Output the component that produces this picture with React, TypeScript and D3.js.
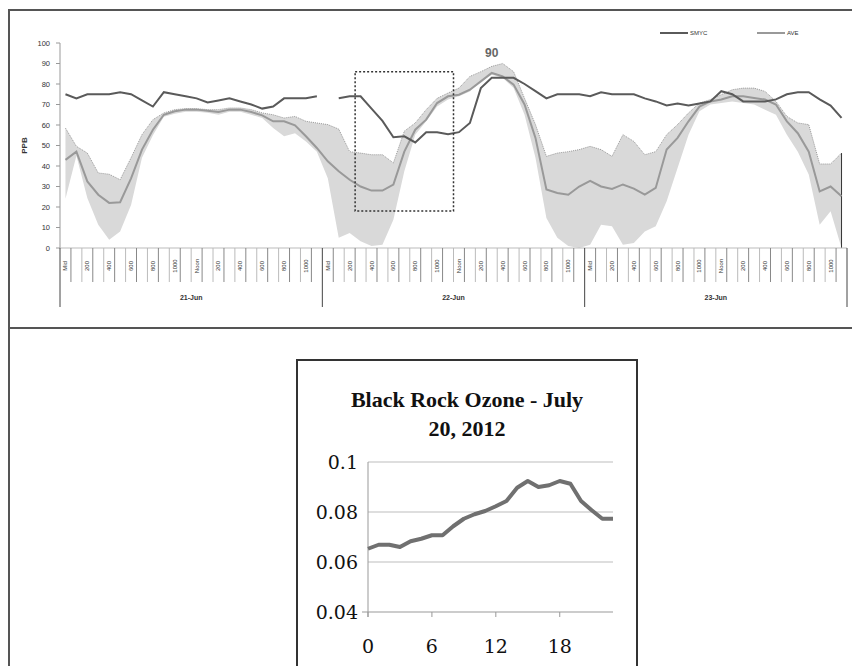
import React from "react";
import * as d3 from "d3";

// hourly readings, 21-Jun 00:00 .. 23-Jun 23:00 (72 points)
const smyc: (number | null)[] = [
  75, 73, 75, 75, 75, 76, 75, 72, 69, 76, 75, 74, 73, 71, 72, 73, 71.5, 70, 68, 69, 73, 73, 73, 74,
  null, 73, 74, 74, 68, 62, 54, 54.5, 51.5, 56.5, 56.5, 55.5, 56.5, 61, 78, 83, 83, 83, 80, 76.5,
  73, 75, 75, 75, 74, 76, 75, 75, 75, 73, 71.5, 69.5, 70.5, 69.5, 70.5, 71.5, 76.5, 75, 71.5, 71.5,
  71.5, 72.5, 75, 76, 76, 72.5, 69.5, 63.5,
];
const ave = [
  43, 47, 32.5, 26, 22, 22.3, 34, 48, 57.7, 65, 66.7, 67.5, 67.5, 67, 66.3, 67.5, 67.5, 66.3, 64.7,
  61.8, 61.8, 59.8, 54.5, 48.8, 42.3, 37.4, 33.3, 30, 28, 28, 30.9, 47, 57.7, 62.6, 70.7, 74, 74.8,
  77.2, 81.3, 85.4, 83.7, 79.7, 70, 53.7, 28.5, 26.8, 26, 30, 32.8, 30, 28.8, 31, 29, 26, 29.3, 48,
  53.7, 61.8, 69, 71.5, 72.4, 74, 74, 73.2, 72.4, 70, 61.8, 56, 47, 27.6, 30, 25.2,
];
const bandHigh = [
  58.5, 49.6, 46.3, 36.6, 36, 33.3, 44, 55.3, 62.6, 65.9, 67.5, 68, 68, 67.5, 67.5, 68.3, 68.3,
  67.5, 65.9, 65, 63.4, 64.2, 61.8, 61, 60.2, 58, 47, 46.3, 45.5, 45.5, 41.5, 57, 61, 67.5, 73, 75.6,
  78, 83.7, 86, 88.6, 90, 86, 73, 60.2, 44.7, 46.3, 47, 48, 49.6, 48, 44.7, 55.3, 52, 45.5, 47, 55.3,
  60.2, 65.9, 70.7, 72.4, 74.8, 77.2, 78, 78, 76.4, 71.5, 64.2, 61, 60.2, 41, 41, 46.3,
];
const bandLow = [
  24, 45, 24.4, 11.4, 4, 8, 21, 44, 55, 64, 65.5, 66.5, 66.5, 66, 65, 66.5, 66.5, 65, 63.4, 58.5,
  54.5, 56, 52, 47, 34, 5, 7.3, 3.3, 1, 1.6, 13.8, 37.4, 55.3, 61.8, 69, 72.4, 74, 76.4, 81.3, 84.5,
  83, 78, 65, 44, 14.6, 5, 1, 0, 1.6, 11.4, 10.6, 1.6, 2.4, 8, 10.6, 22.8, 39, 55.3, 66.7, 70, 70.7,
  71.5, 70.7, 70, 67.5, 65, 55.3, 47, 35.8, 11.4, 17.9, 0,
];
const hourLabels = ["Mid", "200", "400", "600", "800", "1000", "Noon", "200", "400", "600", "800", "1000"];
const days = ["21-Jun", "22-Jun", "23-Jun"];
const ppbTicks = [0, 10, 20, 30, 40, 50, 60, 70, 80, 90, 100];

// Black Rock, 20 July 2012, hourly
const ozoneHours = d3.range(24);
const ozone = [
  0.0653, 0.0669, 0.0669, 0.066, 0.0683, 0.0693, 0.0707, 0.0707, 0.0743, 0.0773, 0.0791, 0.0804,
  0.0823, 0.0844, 0.0897, 0.0924, 0.09, 0.0907, 0.0924, 0.0913, 0.0844, 0.0807, 0.0773, 0.0773,
];
const ozoneTicks = [0.04, 0.06, 0.08, 0.1];
const hourTicks = [0, 6, 12, 18];

const App = () => {
  // top panel
  const x = d3.scaleLinear().domain([0, 72]).range([60, 847]);
  const y = d3.scaleLinear().domain([0, 100]).range([248, 43]);
  const cx = (i: number) => x(i + 0.5);

  const smycLine = d3
    .line<number | null>()
    .defined((d) => d != null)
    .x((_, i) => cx(i))
    .y((d) => y(d as number));
  const aveLine = d3
    .line<number>()
    .x((_, i) => cx(i))
    .y((d) => y(d));
  const band = d3
    .area<number>()
    .x((_, i) => cx(i))
    .y0((_, i) => y(bandLow[i]))
    .y1((d) => y(d));
  const bandTop = d3
    .line<number>()
    .x((_, i) => cx(i))
    .y((d) => y(d));

  // bottom panel
  const xb = d3.scaleLinear().domain([0, 23]).range([368, 613]);
  const yb = d3.scaleLinear().domain([0.04, 0.1]).range([612, 462]);
  const ozLine = d3
    .line<number>()
    .x((_, i) => xb(ozoneHours[i]))
    .y((d) => yb(d));

  const sans = "'Liberation Sans', Arial, sans-serif";
  const last = bandHigh.length - 1;

  return (
    <div style={{ position: "fixed", left: 0, top: 0 }}>
      <svg width={852} height={666} style={{ display: "block", background: "#fff" }}>
        {/* frame */}
        <line x1={9} x2={852} y1={10} y2={10} stroke="#555" strokeWidth={2} />
        <line x1={9} x2={9} y1={9} y2={666} stroke="#555" strokeWidth={2} />
        <line x1={9} x2={852} y1={328} y2={328} stroke="#555" strokeWidth={2} />

        {/* band */}
        <path d={band(bandHigh) || ""} fill="#d9d9d9" />
        <path d={bandTop(bandHigh) || ""} fill="none" stroke="#777" strokeWidth={0.7} strokeDasharray="1,1" />
        <line x1={cx(last)} x2={cx(last)} y1={y(bandHigh[last])} y2={y(0)} stroke="#333" strokeWidth={1} />

        {/* y axis */}
        <line x1={60} x2={60} y1={y(100)} y2={y(0)} stroke="#999" />
        {ppbTicks.map((t) => (
          <g key={t}>
            <line x1={56} x2={60} y1={y(t)} y2={y(t)} stroke="#999" />
            <text x={50} y={y(t)} dy="0.35em" textAnchor="end" fontSize={7.5} fontFamily={sans} fill="#333">
              {t}
            </text>
          </g>
        ))}
        <text
          transform={`translate(27,${y(50)}) rotate(-90)`}
          textAnchor="middle"
          fontSize={8}
          fontWeight="bold"
          fontFamily={sans}
          fill="#333"
        >
          PPB
        </text>

        {/* category axis */}
        <line x1={60} x2={847} y1={y(0)} y2={y(0)} stroke="#bbb" />
        {d3.range(73).map((i) =>
          i % 24 === 0 ? (
            <line key={i} x1={x(i)} x2={x(i)} y1={y(0)} y2={307} stroke="#444" />
          ) : (
            <line key={i} x1={x(i)} x2={x(i)} y1={y(0)} y2={282} stroke={i % 2 ? "#888" : "#bbb"} />
          )
        )}
        {days.map((dname, di) =>
          hourLabels.map((lab, li) => {
            const i = di * 24 + li * 2;
            return (
              <text
                key={`${di}-${li}`}
                transform={`translate(${cx(i) + 2},266) rotate(-90)`}
                textAnchor="middle"
                fontSize={6}
                fontFamily={sans}
                fill="#333"
              >
                {lab}
              </text>
            );
          })
        )}
        {days.map((dname, di) => (
          <text
            key={dname}
            x={x(di * 24 + 12)}
            y={300}
            textAnchor="middle"
            fontSize={7}
            fontWeight="bold"
            fontFamily={sans}
            fill="#333"
          >
            {dname}
          </text>
        ))}

        {/* series */}
        <path d={aveLine(ave) || ""} fill="none" stroke="#999" strokeWidth={2} />
        <path d={smycLine(smyc) || ""} fill="none" stroke="#5a5a5a" strokeWidth={2} />

        {/* highlight box and peak note */}
        <rect
          x={x(27)}
          y={y(86)}
          width={x(36) - x(27)}
          height={y(18) - y(86)}
          fill="none"
          stroke="#333"
          strokeWidth={1.5}
          strokeDasharray="2,2"
        />
        <text x={cx(39)} y={57} textAnchor="middle" fontSize={12} fontWeight="bold" fontFamily={sans} fill="#666">
          90
        </text>

        {/* legend */}
        <line x1={660} x2={688} y1={33} y2={33} stroke="#5a5a5a" strokeWidth={2} />
        <text x={690} y={33} dy="0.35em" fontSize={6} fontFamily={sans} fill="#333">
          SMYC
        </text>
        <line x1={757} x2={785} y1={33} y2={33} stroke="#999" strokeWidth={2} />
        <text x={787} y={33} dy="0.35em" fontSize={6} fontFamily={sans} fill="#333">
          AVE
        </text>

        {/* bottom chart */}
        <rect x={297} y={360} width={340} height={340} fill="#fff" stroke="#333" strokeWidth={2} />
        <text textAnchor="middle" fontSize={22} fontWeight="bold" fontFamily="'Liberation Serif', serif" fill="#111">
          <tspan x={467} y={407}>
            Black Rock Ozone - July
          </tspan>
          <tspan x={467} y={436}>
            20, 2012
          </tspan>
        </text>
        {ozoneTicks.map((t) => (
          <g key={t}>
            <line x1={t === 0.04 ? 362 : 368} x2={613} y1={yb(t)} y2={yb(t)} stroke={t === 0.04 ? "#999" : "#bdbdbd"} />
            <text x={358} y={yb(t)} dy="0.35em" textAnchor="end" fontSize={19} fontFamily="'DejaVu Serif', serif" fill="#111">
              {String(t)}
            </text>
          </g>
        ))}
        <line x1={368} x2={368} y1={yb(0.1)} y2={yb(0.04) + 5} stroke="#999" />
        {hourTicks.map((h) => (
          <g key={h}>
            <line x1={xb(h)} x2={xb(h)} y1={yb(0.04)} y2={yb(0.04) + 5} stroke="#999" />
            <text x={xb(h)} y={653} textAnchor="middle" fontSize={19} fontFamily="'DejaVu Serif', serif" fill="#111">
              {h}
            </text>
          </g>
        ))}
        <path d={ozLine(ozone) || ""} fill="none" stroke="#707070" strokeWidth={4} strokeLinejoin="round" />
      </svg>
    </div>
  );
};

export default App;
